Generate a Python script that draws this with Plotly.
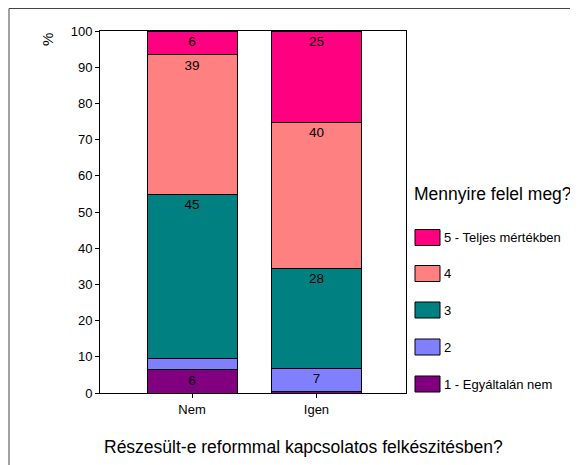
import plotly.graph_objects as go

categories = ["Nem", "Igen"]

levels = ["1 - Egyáltalán nem", "2", "3", "4", "5 - Teljes mértékben"]
colors = ["#800080", "#8080FF", "#008080", "#FF8080", "#FF0080"]

# percent per answer level, for Nem / Igen
values = [
    [6.4, 0.4],
    [3.2, 6.5],
    [45.3, 27.6],
    [38.6, 40.3],
    [6.5, 25.2],
]
labels = [
    ["6", ""],
    ["", "7"],
    ["45", "28"],
    ["39", "40"],
    ["6", "25"],
]

# page has an 8px body margin, so the figure starts at (8, 8)
OFF = 8
W, H = 578 - OFF, 465 - OFF
# plot area in screen pixels
X0, X1, Y0, Y1 = 100, 406, 31, 393
L, R, T, B = X0 - OFF, 578 - X1, Y0 - OFF, 465 - Y1
pw, ph = X1 - X0, Y1 - Y0


def px(x):
    return (x - X0) / pw


def py(y):
    return (Y1 - y) / ph


fig = go.Figure()
for name, vals, txt, col in zip(levels, values, labels, colors):
    fig.add_trace(go.Bar(
        x=[0, 1], y=vals, name=name, text=txt,
        textposition="inside", insidetextanchor="end", textangle=0,
        textfont=dict(color="black", size=13.5),
        marker=dict(color=col, line=dict(color="black", width=1)),
        width=0.723, showlegend=False, hoverinfo="skip",
    ))

fig.update_layout(
    width=W, height=H,
    margin=dict(l=L, r=R, t=T, b=B),
    barmode="stack",
    plot_bgcolor="white", paper_bgcolor="white",
    font=dict(family="Liberation Sans, Arial, sans-serif", color="black", size=13),
    xaxis=dict(
        range=[-0.74, 1.72], tickvals=[0, 1], ticktext=categories,
        ticks="outside", ticklen=4, tickcolor="black",
        showline=True, linecolor="black", linewidth=1, mirror=True,
        showgrid=False, zeroline=False, tickfont=dict(size=13),
    ),
    yaxis=dict(
        range=[0, 100], dtick=10, ticks="outside", ticklen=4, tickcolor="black",
        showline=True, linecolor="black", linewidth=1, mirror=True,
        showgrid=False, zeroline=False, tickfont=dict(size=13),
    ),
)

anns = [
    dict(x=px(48), y=py(40), text="%", textangle=-90, font=dict(size=15)),
    dict(x=px(303), y=py(447), text="Részesült-e reformmal kapcsolatos felkészitésben?",
         font=dict(size=17.5)),
    dict(x=px(412), y=py(194), text="Mennyire felel meg?", xanchor="left",
         font=dict(size=17.5)),
]

shapes = [
    dict(type="rect", xref="paper", yref="paper",
         x0=px(9), x1=px(600), y0=py(490), y1=py(8.5),
         line=dict(color="#444", width=1), layer="below"),
]

# hand-drawn legend, top to bottom 5..1
leg_y = [237.5, 273.5, 310, 347, 384]
for i, yc in enumerate(leg_y):
    k = len(levels) - 1 - i
    shapes.append(dict(type="rect", xref="paper", yref="paper",
                       x0=px(415), x1=px(440), y0=py(yc + 8), y1=py(yc - 8),
                       fillcolor=colors[k], line=dict(color="black", width=1)))
    anns.append(dict(x=px(442), y=py(yc), text=levels[k], xanchor="left",
                     font=dict(size=13)))

for a in anns:
    a.update(xref="paper", yref="paper", showarrow=False)
    a.setdefault("xanchor", "center")
    a.setdefault("yanchor", "middle")

fig.update_layout(annotations=anns, shapes=shapes)

fig.write_html("out.html")
